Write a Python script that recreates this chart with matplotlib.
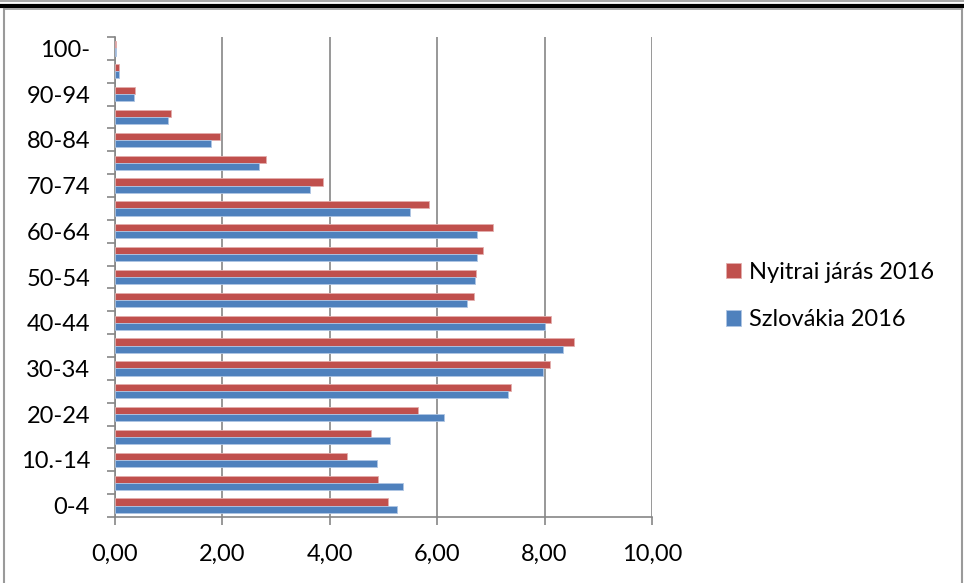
import matplotlib
matplotlib.use("Agg")
import matplotlib.pyplot as plt
from matplotlib.lines import Line2D
import numpy as np

categories = ["0-4", "5-9", "10.-14", "15-19", "20-24", "25-29", "30-34", "35-39",
              "40-44", "45-49", "50-54", "55-59", "60-64", "65-69", "70-74", "75-79",
              "80-84", "85-89", "90-94", "95-99", "100-"]
nyitra = [5.09, 4.89, 4.32, 4.76, 5.65, 7.37, 8.10, 8.54, 8.12, 6.69, 6.72, 6.86,
          7.03, 5.85, 3.87, 2.82, 1.96, 1.04, 0.37, 0.07, 0.01]
szlovakia = [5.25, 5.36, 4.87, 5.12, 6.13, 7.31, 7.97, 8.35, 8.01, 6.55, 6.71, 6.75,
             6.75, 5.49, 3.63, 2.69, 1.79, 0.98, 0.35, 0.07, 0.01]
series_names = ["Nyitrai járás 2016", "Szlovákia 2016"]
xticks = [0, 2, 4, 6, 8, 10]
xtick_labels = ["0,00", "2,00", "4,00", "6,00", "8,00", "10,00"]

RED = "#C0504D"
BLUE = "#4F81BD"
GRID = "#868686"

plt.rcParams["font.family"] = ["Lato", "DejaVu Sans"]
FS = 17

W, H = 964, 583
fig = plt.figure(figsize=(W / 100, H / 100), dpi=100)

def fx(x):
    return x / W

def fy(y):
    return 1 - y / H

ax = fig.add_axes([fx(115), fy(517), (652 - 115) / W, (517 - 37) / H])

y = np.arange(len(categories))
h = 0.31
b1 = ax.barh(y + h / 2, nyitra, height=h, color=RED, edgecolor="#E3AEAD",
             linewidth=0.6, label=series_names[0], zorder=3)
b2 = ax.barh(y - h / 2, szlovakia, height=h, color=BLUE, edgecolor="#AFC5E3",
             linewidth=0.6, label=series_names[1], zorder=3)

ax.set_xlim(0, 10)
ax.set_ylim(-0.5, len(categories) - 0.5)
ax.set_xticks(xticks)
ax.set_xticklabels(xtick_labels)
ax.set_yticks(y)
ax.set_yticklabels(categories)
for i, lab in enumerate(ax.get_yticklabels()):
    if i % 2 == 1:
        lab.set_visible(False)
ax.set_yticks(np.arange(len(categories) + 1) - 0.5, minor=True)

ax.tick_params(axis="y", which="major", length=0, pad=18, labelsize=FS)
ax.tick_params(axis="y", which="minor", length=5.5, width=1.2, color=GRID, direction="out")
ax.tick_params(axis="x", which="major", length=5.5, width=1.2, color=GRID,
               direction="out", pad=13.5, labelsize=FS)

ax.grid(axis="x", color=GRID, linewidth=1.2, zorder=0)
ax.set_axisbelow(True)
for s in ["top", "right"]:
    ax.spines[s].set_visible(False)
for s in ["left", "bottom"]:
    ax.spines[s].set_color(GRID)
    ax.spines[s].set_linewidth(1.2)

fig.legend(handles=[b1, b2], labels=series_names, loc="center left",
           bbox_to_anchor=(fx(726), fy(296)), frameon=False, fontsize=FS,
           handlelength=0.64, handleheight=0.64, handletextpad=0.33,
           labelspacing=1.12, borderaxespad=0, borderpad=0)

# Frame lines
fig.add_artist(Line2D([fx(0), fx(W)], [fy(1), fy(1)], color="#9a9a9a", lw=1.2,
                      transform=fig.transFigure))
fig.add_artist(Line2D([fx(0), fx(W)], [fy(5.5), fy(5.5)], color="black", lw=3,
                      transform=fig.transFigure))
fig.add_artist(Line2D([fx(3.5), fx(961.5)], [fy(8.5), fy(8.5)], color="#9a9a9a", lw=1.2,
                      transform=fig.transFigure))
fig.add_artist(Line2D([fx(3.5), fx(3.5)], [fy(8.5), fy(H)], color="#9a9a9a", lw=1.5,
                      transform=fig.transFigure))
fig.add_artist(Line2D([fx(961.5), fx(961.5)], [fy(8.5), fy(H)], color="#9a9a9a", lw=1.5,
                      transform=fig.transFigure))

fig.savefig("out.png", dpi=100)
